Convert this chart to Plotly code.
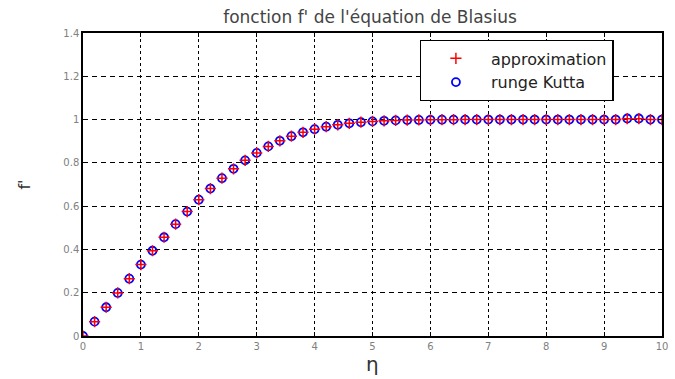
import plotly.graph_objects as go

eta = [round(0.2 * i, 1) for i in range(51)]
approx = [0.0, 0.0664, 0.1328, 0.1989, 0.2647, 0.3298, 0.3938, 0.4563, 0.5168, 0.5748,
          0.6298, 0.6813, 0.7290, 0.7725, 0.8115, 0.8460, 0.8761, 0.9018, 0.9233, 0.9411,
          0.9555, 0.9670, 0.9759, 0.9827, 0.9878, 0.9916, 0.9943, 0.9962, 0.9975, 0.9984,
          0.9990, 0.9994, 0.9996, 0.9998, 0.9999, 1.0, 1.0, 1.0, 1.0, 1.0,
          1.0, 1.0, 1.0, 1.0, 1.0, 1.0, 1.0, 1.004, 1.004, 1.0, 1.0]
rk = [0.0, 0.0664, 0.1328, 0.1989, 0.2647, 0.3298, 0.3938, 0.4563, 0.5168, 0.5748,
      0.6298, 0.6813, 0.7290, 0.7725, 0.8115, 0.8460, 0.8761, 0.9018, 0.9233, 0.9411,
      0.9555, 0.9670, 0.9759, 0.9827, 0.9878, 0.9916, 0.9943, 0.9962, 0.9975, 0.9984,
      0.9990, 0.9994, 0.9996, 0.9998, 0.9999, 1.0, 1.0, 1.0, 1.0, 1.0,
      1.0, 1.0, 1.0, 1.0, 1.0, 1.0, 1.0, 1.005, 1.005, 1.0, 1.0]
xticks = list(range(0, 11))
yticks = [0, 0.2, 0.4, 0.6, 0.8, 1, 1.2, 1.4]
ytick_text = ["0", "0.2", "0.4", "0.6", "0.8", "1", "1.2", "1.4"]

FONT = "DejaVu Sans, Verdana, sans-serif"

cross_marker = dict(symbol="cross-thin", size=8, color="#ff0000", line=dict(width=1.5, color="#ff0000"))
circle_marker = dict(symbol="circle-open", size=8, color="#0000ff", line=dict(width=1.8, color="#0000ff"))

fig = go.Figure()
fig.add_trace(go.Scatter(x=eta, y=rk, mode="markers", name="runge Kutta", showlegend=False,
                         marker=circle_marker))
fig.add_trace(go.Scatter(x=eta, y=approx, mode="markers", name="approximation", showlegend=False,
                         marker=cross_marker))
# legend entries (order: approximation, runge Kutta)
fig.add_trace(go.Scatter(x=[None], y=[None], mode="markers", name="approximation", marker=cross_marker))
fig.add_trace(go.Scatter(x=[None], y=[None], mode="markers", name="runge Kutta", marker=circle_marker))

axis_common = dict(
    showline=True, linecolor="black", linewidth=1.5, mirror="ticks",
    ticks="inside", ticklen=4, tickcolor="black",
    showgrid=True, gridcolor="black", gridwidth=1,
    zeroline=False,
    tickfont=dict(family=FONT, size=10, color="#808080"),
)

fig.update_layout(
    width=675, height=379,
    margin=dict(l=83, r=7, t=33, b=43),
    paper_bgcolor="white", plot_bgcolor="white",
    title=dict(text="fonction f' de l'équation de Blasius", x=370 / 675, xanchor="center",
               y=1 - 17 / 379, yanchor="middle",
               font=dict(family=FONT, size=17, color="#444444")),
    xaxis=dict(range=[0, 10], tickvals=xticks, griddash="3px,3px", **axis_common),
    yaxis=dict(range=[0, 1.4], tickvals=yticks, ticktext=ytick_text, griddash="5px,4px", **axis_common),
    legend=dict(x=(423 - 83) / 585, y=(336 - 40) / 303, xanchor="left", yanchor="top",
                bgcolor="white", bordercolor="black", borderwidth=1.4,
                font=dict(family=FONT, size=16, color="#222222"),
                itemwidth=60, tracegroupgap=0, entrywidth=165, entrywidthmode="pixels"),
    showlegend=True,
)

fig.add_annotation(text="η", x=(375 - 83) / 585, xref="paper", y=-28 / 303, yref="paper",
                   showarrow=False, xanchor="center", yanchor="middle",
                   font=dict(family=FONT, size=20, color="#333333"))
fig.add_annotation(text="f'", x=(23 - 83) / 585, xref="paper", y=(336 - 185) / 303, yref="paper",
                   showarrow=False, textangle=-90, xanchor="center", yanchor="middle",
                   font=dict(family=FONT, size=16, color="#333333"))

fig.write_html("out.html", config={"displayModeBar": False},
               post_script="document.body.style.margin='0';")
